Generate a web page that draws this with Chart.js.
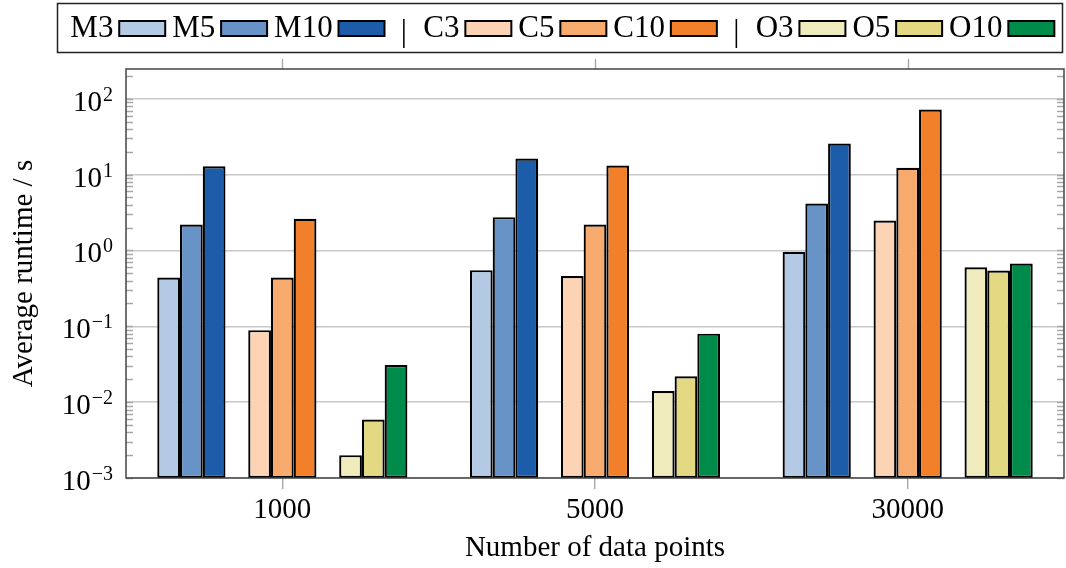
<!DOCTYPE html>
<html>
<head>
<meta charset="utf-8">
<script src="https://cdn.jsdelivr.net/npm/chart.js@4.4.1/dist/chart.umd.min.js"></script>
<style>
html,body{margin:0;padding:0;background:#fff}
#wrap{width:1066px;height:568px}
</style>
</head>
<body>
<div id="wrap"><canvas id="runtime" width="1066" height="568"></canvas></div>
<script>
// runtimes in seconds per method and size
const categories = ['1000', '5000', '30000'];
const M3  = [0.44, 0.55, 0.96];
const M5  = [2.2, 2.75, 4.15];
const M10 = [12.9, 16.3, 25.7];
const C3  = [0.089, 0.46, 2.48];
const C5  = [0.44, 2.2, 12.3];
const C10 = [2.62, 13.2, 72];
const O3  = [0.002, 0.014, 0.60];
const O5  = [0.0059, 0.022, 0.545];
const O10 = [0.0308, 0.08, 0.674];
const yMin = 1e-3, yMax = 247;

const values = { M3, M5, M10, C3, C5, C10, O3, O5, O10 };
const colors = {
  M3: '#b3c9e4', M5: '#6893c6', M10: '#1c5ca8',
  C3: '#fcd3b4', C5: '#f7aa6e', C10: '#f2802a',
  O3: '#f0ebbc', O5: '#e2d982', O10: '#018b4a'
};
const legendGroups = [['M3', 'M5', 'M10'], ['C3', 'C5', 'C10'], ['O3', 'O5', 'O10']];

const FONT = "'Liberation Serif', 'Times New Roman', serif";
const FS = 29;
const ink = '#000';
const frameColor = '#444';
const tickColor = '#a8a8a8';

// three bars per group, one empty slot between groups
const slots = [];
legendGroups.forEach((g, i) => { if (i) slots.push(null); g.forEach(k => slots.push(k)); });

const datasets = slots.map(k => k ? {
  label: k, data: values[k], backgroundColor: colors[k], borderColor: ink,
  borderWidth: 2.2, borderSkipped: false, barPercentage: 1, categoryPercentage: 0.8
} : {
  label: '', data: categories.map(() => null), barPercentage: 1, categoryPercentage: 0.8
});

const isDecade = v => Math.abs(Math.log10(v) - Math.round(Math.log10(v))) < 1e-9;
const isStep = v => { const e = Math.floor(Math.log10(v) + 1e-9); const s = v / Math.pow(10, e); return Math.abs(s - Math.round(s)) < 1e-6; };

// frame, inner minor ticks on both sides, top category ticks
const framePlugin = {
  id: 'frame',
  afterDatasetsDraw(chart) {
    const { ctx, chartArea: a, scales } = chart;
    ctx.save();
    ctx.lineWidth = 1.4;
    ctx.strokeStyle = tickColor;
    ctx.beginPath();
    for (const t of scales.y.ticks) {
      if (!isStep(t.value) || t.value > yMax) continue;
      const py = Math.round(scales.y.getPixelForValue(t.value)) + 0.5;
      ctx.moveTo(a.left, py); ctx.lineTo(a.left + 7, py);
      ctx.moveTo(a.right - 7, py); ctx.lineTo(a.right, py);
    }
    scales.x.ticks.forEach((t, i) => {
      const px = Math.round(scales.x.getPixelForTick(i)) + 0.5;
      ctx.moveTo(px, a.top - 10); ctx.lineTo(px, a.top);
    });
    ctx.stroke();
    ctx.lineWidth = 1.5;
    ctx.strokeStyle = frameColor;
    ctx.strokeRect(a.left, a.top, a.right - a.left, a.bottom - a.top);
    ctx.restore();
  }
};

// y labels as 10 with a raised exponent
const powerLabels = {
  id: 'powerLabels',
  afterDraw(chart) {
    const { ctx } = chart;
    const s = chart.scales.y;
    const right = s.right - 13;
    ctx.save();
    ctx.fillStyle = ink;
    ctx.textAlign = 'right';
    ctx.textBaseline = 'alphabetic';
    for (const t of s.ticks) {
      if (!isDecade(t.value)) continue;
      const py = s.getPixelForValue(t.value);
      const e = Math.round(Math.log10(t.value));
      const sup = (e < 0 ? '\u2212' : '') + Math.abs(e);
      ctx.font = `${Math.round(FS * 0.7)}px ${FONT}`;
      ctx.fillText(sup, right, py + 2);
      const w = ctx.measureText(sup).width;
      ctx.font = `${FS}px ${FONT}`;
      ctx.fillText('10', right - w - 1, py + 12);
    }
    ctx.restore();
  }
};

// legend row: name, then swatch; bars between groups
const legendPlugin = {
  id: 'rowLegend',
  afterDraw(chart) {
    const ctx = chart.ctx;
    const box = { l: 57.5, t: 3.5, r: 1062.5, b: 52.5 };
    const sw = 46, sh = 15;
    ctx.save();
    ctx.font = `31px ${FONT}`;
    ctx.fillStyle = '#fff';
    ctx.fillRect(box.l, box.t, box.r - box.l, box.b - box.t);
    ctx.lineWidth = 1.5;
    ctx.strokeStyle = '#222';
    ctx.strokeRect(box.l, box.t, box.r - box.l, box.b - box.t);

    const parts = [];
    legendGroups.forEach((g, gi) => {
      if (gi) parts.push({ sep: true });
      g.forEach(k => parts.push({ k }));
    });
    // gaps in base units, stretched to fill the box
    const base = { pad: 11, tb: 5, item: 6, sep: 14, padR: 7 };
    let fixed = 0, flex = base.pad + base.padR;
    parts.forEach((p, i) => {
      if (p.sep) { fixed += ctx.measureText('|').width; flex += base.sep * 2; }
      else {
        fixed += ctx.measureText(p.k).width + sw; flex += base.tb;
        if (i + 1 < parts.length && !parts[i + 1].sep) flex += base.item;
      }
    });
    const k = (box.r - box.l - fixed) / flex;
    let x = box.l + base.pad * k;
    const baseY = 37, midY = 28.5;
    ctx.textBaseline = 'alphabetic';
    ctx.textAlign = 'left';
    parts.forEach((p, i) => {
      ctx.fillStyle = ink;
      if (p.sep) {
        x += base.sep * k;
        ctx.fillText('|', x, baseY + 4);
        x += ctx.measureText('|').width + base.sep * k;
        return;
      }
      ctx.fillText(p.k, x, baseY);
      x += ctx.measureText(p.k).width + base.tb * k;
      ctx.fillStyle = colors[p.k];
      ctx.fillRect(x, midY - sh / 2, sw, sh);
      ctx.lineWidth = 2;
      ctx.strokeStyle = ink;
      ctx.strokeRect(x, midY - sh / 2, sw, sh);
      x += sw;
      if (i + 1 < parts.length && !parts[i + 1].sep) x += base.item * k;
    });
    ctx.restore();
  }
};

new Chart(document.getElementById('runtime'), {
  type: 'bar',
  data: { labels: categories, datasets },
  options: {
    responsive: false,
    animation: false,
    devicePixelRatio: 1,
    layout: { padding: { top: 69, right: 2, left: 0, bottom: 0 } },
    plugins: { legend: { display: false }, tooltip: { enabled: false } },
    scales: {
      x: {
        type: 'category',
        offset: true,
        grid: { display: true, offset: false, drawOnChartArea: false, drawTicks: true, tickLength: 11, color: tickColor, lineWidth: 1.4 },
        border: { display: false },
        ticks: { font: { family: FONT, size: FS }, color: ink, padding: 4 },
        title: { display: true, text: 'Number of data points', font: { family: FONT, size: FS }, color: ink, padding: { top: 0, bottom: 2 } },
        afterFit(s) { s.height = 90; }
      },
      y: {
        type: 'logarithmic',
        min: yMin,
        max: yMax,
        grid: {
          drawTicks: false,
          lineWidth: 1.4,
          color: c => (c.tick && isDecade(c.tick.value)) ? '#c8c8c8' : 'rgba(0,0,0,0)'
        },
        border: { display: false },
        ticks: { display: false, autoSkip: false },
        title: { display: true, text: 'Average runtime / s', font: { family: FONT, size: FS }, color: ink, padding: { top: 7, bottom: 0 } },
        afterFit(s) { s.width = 126; }
      }
    }
  },
  plugins: [framePlugin, powerLabels, legendPlugin]
});
</script>
</body>
</html>
